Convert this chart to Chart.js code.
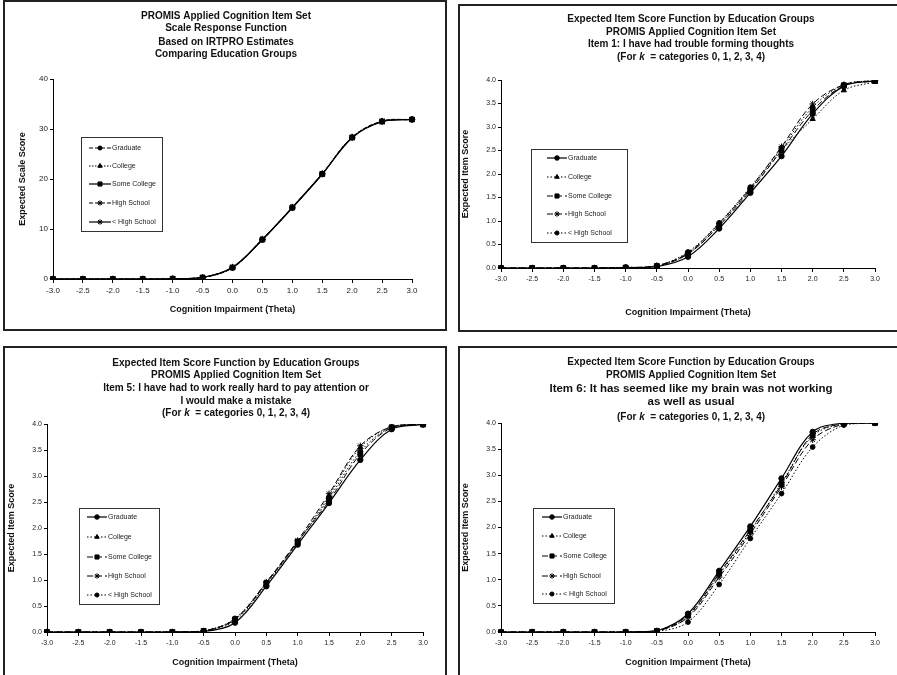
<!DOCTYPE html>
<html lang="en">
<head>
  <meta charset="UTF-8">
  <title>PROMIS Applied Cognition - Education Groups</title>
  <script src="https://cdn.jsdelivr.net/npm/chart.js"></script>
  <style>
    html, body {
      margin: 0;
      padding: 0;
      background: #fff;
      overflow: hidden;
    }
    body {
      width: 897px;
      height: 675px;
      position: relative;
      font-family: 'Liberation Sans', Arial, sans-serif;
    }
    .panel {
      position: absolute;
      box-sizing: border-box;
      border: 2px solid #222;
    }
    canvas {
      position: absolute;
    }
  </style>
</head>
<body>
  <!-- panel frames -->
  <div class="panel" style="left:3px;top:0px;width:444px;height:331px"></div>
  <div class="panel" style="left:458px;top:4px;width:460px;height:328px"></div>
  <div class="panel" style="left:3px;top:346px;width:444px;height:340px"></div>
  <div class="panel" style="left:458px;top:346px;width:460px;height:340px"></div>

  <canvas id="srf" style="left:5px;top:2px" width="440" height="327"></canvas>
  <canvas id="item1" style="left:460px;top:6px" width="437" height="324"></canvas>
  <canvas id="item5" style="left:5px;top:348px" width="440" height="327"></canvas>
  <canvas id="item6" style="left:460px;top:348px" width="437" height="327"></canvas>

  <script>
    // theta values along the x axis
    const theta = ['-3.0', '-2.5', '-2.0', '-1.5', '-1.0', '-0.5', '0.0', '0.5', '1.0', '1.5', '2.0', '2.5', '3.0'];
    const groups = ['Graduate', 'College', 'Some College', 'High School', '< High School'];

    // Scale response function (expected scale score), one row per group
    const scaleScores = [
      [0, 0, 0, 0, 0.04, 0.28, 2.2, 7.8, 14.2, 21.0, 28.3, 31.5, 31.9],
      [0, 0, 0, 0, 0.05, 0.32, 2.35, 7.95, 14.35, 21.05, 28.35, 31.55, 31.92],
      [0, 0, 0, 0, 0.05, 0.3, 2.3, 7.9, 14.3, 21.0, 28.3, 31.5, 31.9],
      [0, 0, 0, 0, 0.05, 0.33, 2.4, 8.0, 14.4, 21.1, 28.4, 31.6, 31.93],
      [0, 0, 0, 0, 0.04, 0.3, 2.3, 7.9, 14.25, 20.95, 28.25, 31.45, 31.9]
    ];

    // Item 1: I have had trouble forming thoughts
    const item1Scores = [
      [0, 0, 0, 0, 0.01, 0.03, 0.24, 0.84, 1.60, 2.38, 3.28, 3.87, 3.98],
      [0, 0, 0, 0, 0.01, 0.04, 0.30, 0.92, 1.68, 2.50, 3.17, 3.78, 3.96],
      [0, 0, 0, 0, 0.01, 0.04, 0.30, 0.90, 1.65, 2.50, 3.35, 3.88, 3.98],
      [0, 0, 0, 0, 0.01, 0.05, 0.32, 0.95, 1.70, 2.58, 3.49, 3.90, 3.99],
      [0, 0, 0, 0, 0.01, 0.05, 0.34, 0.96, 1.72, 2.55, 3.42, 3.90, 3.99]
    ];

    // Item 5: I have had to work really hard to pay attention ...
    const item5Scores = [
      [0, 0, 0, 0, 0, 0.01, 0.18, 0.88, 1.68, 2.48, 3.31, 3.90, 3.99],
      [0, 0, 0, 0, 0, 0.02, 0.22, 0.92, 1.72, 2.62, 3.55, 3.95, 4.0],
      [0, 0, 0, 0, 0, 0.02, 0.24, 0.94, 1.74, 2.52, 3.42, 3.93, 3.99],
      [0, 0, 0, 0, 0, 0.02, 0.25, 0.96, 1.76, 2.66, 3.58, 3.95, 4.0],
      [0, 0, 0, 0, 0, 0.02, 0.26, 0.95, 1.73, 2.57, 3.47, 3.94, 4.0]
    ];

    // Item 6: It has seemed like my brain was not working as well as usual
    const item6Scores = [
      [0, 0, 0, 0, 0, 0.02, 0.35, 1.17, 2.02, 2.94, 3.83, 4.0, 4.0],
      [0, 0, 0, 0, 0, 0.02, 0.30, 1.10, 1.92, 2.85, 3.75, 3.99, 4.0],
      [0, 0, 0, 0, 0, 0.02, 0.32, 1.12, 1.95, 2.82, 3.78, 3.99, 4.0],
      [0, 0, 0, 0, 0, 0.02, 0.28, 1.05, 1.88, 2.78, 3.68, 3.98, 4.0],
      [0, 0, 0, 0, 0, 0.01, 0.19, 0.91, 1.79, 2.65, 3.54, 3.96, 4.0]
    ];

    const scaleTicks = [0, 10, 20, 30, 40];
    const itemTicks = [0, 0.5, 1, 1.5, 2, 2.5, 3, 3.5, 4];

    const FONT = "'Liberation Sans', Arial, sans-serif";

    // line / marker look of each group
    const srfStyles = [
      { dash: [4, 2], point: 'circle', r: 2.4, w: 1 },
      { dash: [1.5, 1.5], point: 'triangle', r: 3, w: 1 },
      { dash: [], point: 'rect', r: 3.4, w: 1.2 },
      { dash: [4, 2], point: 'star', r: 3.2, w: 1 },
      { dash: [], point: 'star', r: 3.2, w: 1.2 }
    ];
    const itemStyles = [
      { dash: [], point: 'circle', r: 2.7, w: 1.2 },
      { dash: [1.5, 2], point: 'triangle', r: 3, w: 1 },
      { dash: [6, 3], point: 'rect', r: 3.4, w: 1 },
      { dash: [6, 3], point: 'star', r: 3.2, w: 1 },
      { dash: [1.5, 2], point: 'circle', r: 2.4, w: 1 }
    ];

    // multi-line panel heading, *text* is drawn in italics
    const panelTitle = {
      id: 'panelTitle',
      afterDraw(chart, args, opts) {
        const ctx = chart.ctx;
        ctx.save();
        ctx.fillStyle = '#111';
        ctx.textBaseline = 'middle';
        ctx.textAlign = 'left';
        opts.lines.forEach((text, i) => {
          const size = opts.sizes[i];
          const parts = text.split('*');
          const fontFor = j => (j % 2 ? 'italic bold ' : 'bold ') + size + 'px ' + FONT;
          let total = 0;
          parts.forEach((p, j) => { ctx.font = fontFor(j); total += ctx.measureText(p).width; });
          let x = opts.cx - total / 2;
          parts.forEach((p, j) => {
            ctx.font = fontFor(j);
            ctx.fillText(p, x, opts.ys[i]);
            x += ctx.measureText(p).width;
          });
        });
        ctx.restore();
      }
    };

    // framed legend inside the plot area, like the original
    const boxLegend = {
      id: 'boxLegend',
      afterDraw(chart, args, opts) {
        const ctx = chart.ctx;
        ctx.save();
        ctx.strokeStyle = '#333';
        ctx.lineWidth = 1;
        ctx.strokeRect(opts.x + 0.5, opts.y + 0.5, opts.w, opts.h);
        ctx.font = '7px ' + FONT;
        ctx.textBaseline = 'middle';
        chart.data.datasets.forEach((ds, i) => {
          const y = opts.rows[i];
          ctx.strokeStyle = '#000';
          ctx.fillStyle = '#000';
          ctx.lineWidth = ds.borderWidth;
          ctx.setLineDash(ds.borderDash);
          ctx.beginPath();
          ctx.moveTo(opts.x0, y);
          ctx.lineTo(opts.x1, y);
          ctx.stroke();
          ctx.setLineDash([]);
          ctx.lineWidth = 1;
          Chart.helpers.drawPoint(ctx, {
            pointStyle: ds.pointStyle, radius: ds.pointRadius * 0.85, rotation: 0, borderWidth: 1
          }, (opts.x0 + opts.x1) / 2, y);
          ctx.fillStyle = '#222';
          ctx.fillText(ds.label, opts.x1 + 1, y);
        });
        ctx.restore();
      }
    };

    // canvasBox: page box of the canvas, area: page box of the plot area
    function buildPanel(id, canvasBox, area, cfg) {
      const [bx, by, bw, bh] = canvasBox;
      const lh = 9 * 1.2;
      const datasets = cfg.series.map((vals, i) => ({
        label: groups[i],
        data: vals,
        borderColor: '#000',
        backgroundColor: '#000',
        borderWidth: cfg.styles[i].w,
        borderDash: cfg.styles[i].dash,
        pointStyle: cfg.styles[i].point,
        pointRadius: cfg.styles[i].r,
        pointBorderWidth: 1,
        tension: 0.35,
        fill: false
      }));
      new Chart(document.getElementById(id), {
        type: 'line',
        data: { labels: theta, datasets: datasets },
        options: {
          responsive: false,
          animation: false,
          layout: {
            padding: { left: 0, bottom: 0, top: area.top - by, right: bx + bw - area.right }
          },
          scales: {
            x: {
              type: 'category',
              offset: false,
              grid: { drawOnChartArea: false, color: '#000', tickLength: 4 },
              border: { color: '#000', width: 1 },
              ticks: {
                color: '#222', maxRotation: 0, autoSkip: false, padding: 3,
                font: { family: FONT, size: cfg.tickSize }
              },
              title: {
                display: true, text: 'Cognition Impairment (Theta)', color: '#111',
                font: { family: FONT, size: 9, weight: 'bold', lineHeight: 1.2 },
                padding: { top: 0, bottom: (by + bh - cfg.xTitleY) - lh / 2 }
              },
              afterFit: s => { s.height = by + bh - area.bottom; }
            },
            y: {
              min: cfg.ticks[0],
              max: cfg.ticks[cfg.ticks.length - 1],
              afterBuildTicks: s => { s.ticks = cfg.ticks.map(v => ({ value: v })); },
              grid: { drawOnChartArea: false, color: '#000', tickLength: 3 },
              border: { color: '#000', width: 1 },
              ticks: {
                color: '#222', padding: 2,
                font: { family: FONT, size: cfg.tickSize },
                callback: cfg.fmt
              },
              title: {
                display: true, text: cfg.yTitle, color: '#111',
                font: { family: FONT, size: 9, weight: 'bold', lineHeight: 1.2 },
                padding: { top: (cfg.yTitleX - bx) - lh / 2, bottom: 0 }
              },
              afterFit: s => { s.width = area.left - bx; }
            }
          },
          plugins: {
            legend: { display: false },
            tooltip: { enabled: false },
            title: { display: false },
            panelTitle: {
              lines: cfg.title,
              sizes: cfg.titleSizes,
              ys: cfg.titleYs.map(y => y - by),
              cx: cfg.titleX - bx
            },
            boxLegend: {
              x: cfg.legend.x - bx, y: cfg.legend.y - by, w: cfg.legend.w, h: cfg.legend.h,
              x0: cfg.legend.x0 - bx, x1: cfg.legend.x1 - bx,
              rows: cfg.legend.rows.map(y => y - by)
            }
          }
        },
        plugins: [panelTitle, boxLegend]
      });
    }

    const itemHead = ['Expected Item Score Function by Education Groups', 'PROMIS Applied Cognition Item Set'];
    const kLine = '(For *k*  = categories 0, 1, 2, 3, 4)';

    buildPanel('srf', [5, 2, 440, 327], { left: 53, right: 412, top: 79, bottom: 279 }, {
      series: scaleScores, styles: srfStyles, ticks: scaleTicks, fmt: v => v, tickSize: 8,
      yTitle: 'Expected Scale Score', yTitleX: 23, xTitleY: 310,
      title: ['PROMIS Applied Cognition Item Set', 'Scale Response Function', 'Based on IRTPRO Estimates', 'Comparing Education Groups'],
      titleSizes: [10, 10, 10, 10], titleYs: [16, 28, 42, 54], titleX: 226,
      legend: { x: 81, y: 137, w: 81, h: 94, x0: 89, x1: 111, rows: [148, 166, 184, 203, 222] }
    });

    buildPanel('item1', [460, 6, 437, 324], { left: 501, right: 875, top: 80, bottom: 268 }, {
      series: item1Scores, styles: itemStyles, ticks: itemTicks, fmt: v => v.toFixed(1), tickSize: 7,
      yTitle: 'Expected Item Score', yTitleX: 466, xTitleY: 313,
      title: itemHead.concat(['Item 1: I have had trouble forming thoughts', kLine]),
      titleSizes: [10, 10, 10, 10], titleYs: [19, 32, 44, 57], titleX: 691,
      legend: { x: 531, y: 149, w: 96, h: 93, x0: 547, x1: 567, rows: [158, 177, 196, 214, 233] }
    });

    buildPanel('item5', [5, 348, 440, 327], { left: 47, right: 423, top: 424, bottom: 632 }, {
      series: item5Scores, styles: itemStyles, ticks: itemTicks, fmt: v => v.toFixed(1), tickSize: 7,
      yTitle: 'Expected Item Score', yTitleX: 12, xTitleY: 663,
      title: itemHead.concat(['Item 5: I have had to work really hard to pay attention or', 'I would make a mistake', kLine]),
      titleSizes: [10, 10, 10, 10, 10], titleYs: [363, 375, 388, 401, 413], titleX: 236,
      legend: { x: 79, y: 508, w: 80, h: 96, x0: 87, x1: 107, rows: [517, 537, 557, 576, 595] }
    });

    buildPanel('item6', [460, 348, 437, 327], { left: 501, right: 875, top: 423, bottom: 632 }, {
      series: item6Scores, styles: itemStyles, ticks: itemTicks, fmt: v => v.toFixed(1), tickSize: 7,
      yTitle: 'Expected Item Score', yTitleX: 466, xTitleY: 663,
      title: itemHead.concat(['Item 6: It has seemed like my brain was not working', 'as well as usual', kLine]),
      titleSizes: [10, 10, 11.5, 11.5, 10], titleYs: [362, 375, 389, 402, 417], titleX: 691,
      legend: { x: 533, y: 508, w: 81, h: 95, x0: 542, x1: 562, rows: [517, 536, 556, 576, 594] }
    });
  </script>
</body>
</html>
